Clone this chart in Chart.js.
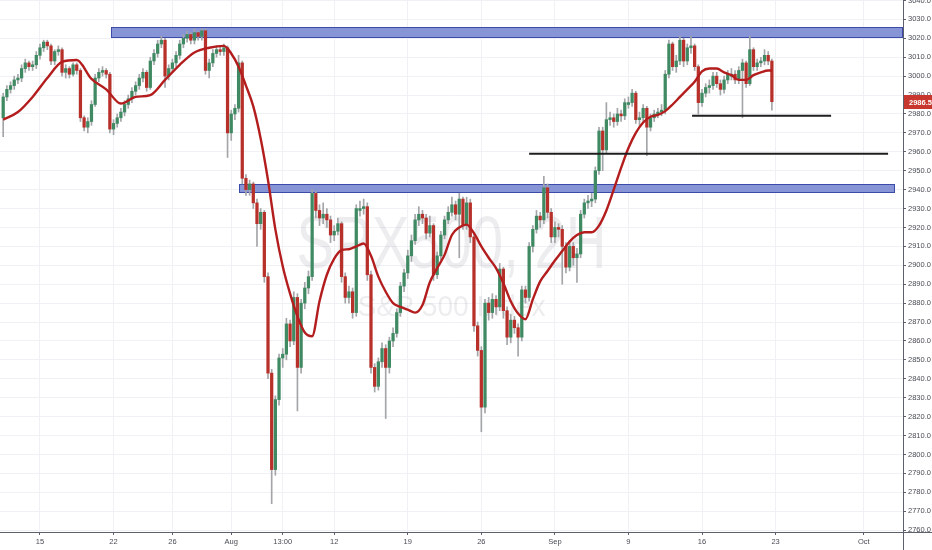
<!DOCTYPE html>
<html lang="en">
<head>
    <meta charset="UTF-8">
    <title>SPX500, 2H</title>
    <script src="https://cdn.jsdelivr.net/npm/chart.js@4.4.1/dist/chart.umd.min.js"></script>
    <style>
        html, body { margin: 0; padding: 0; background: #ffffff; overflow: hidden; }
        canvas { display: block; }
    </style>
</head>
<body>
    <canvas id="chart" width="932" height="550"></canvas>

    <script>
// 2H candles, index 0 = first visible bar (Jul 10), 4 bars per session
var opens = [2978,2989,2993,2995,2998,2999,3004,3007,3005,3006,
    3011,3015,3018,3016,3008,3013,3014,3002,3004,3001,
    3006,3003,2978,2973,2976,2985,2999,3002,3003,3001,
    2972,2975,2978,2981,2985,2988,2992,2995,2999,3002,
    2994,3008,3012,3017,3019,3000,3004,3007,3011,3017,
    3020,3022,3019,3023,3021,3024,3003,3007,3012,3014,
    3013,3015,2970,2980,2983,3007,2946,2940,2943,2933,
    2922,2928,2894,2843,2792,2829,2851,2853,2869,2860,
    2883,2846,2880,2888,2894,2938,2929,2925,2927,2924,
    2916,2918,2922,2894,2883,2886,2875,2929,2930,2931,
    2895,2846,2836,2849,2856,2846,2860,2864,2875,2889,
    2896,2905,2913,2924,2927,2925,2917,2921,2895,2905,
    2916,2924,2928,2932,2927,2935,2921,2933,2915,2868,
    2855,2825,2880,2875,2882,2878,2898,2876,2862,2871,
    2867,2862,2887,2883,2910,2919,2926,2924,2941,2928,
    2915,2920,2919,2910,2899,2910,2904,2906,2927,2933,
    2934,2935,2950,2971,2961,2977,2978,2976,2980,2979,
    2985,2986,2991,2977,2978,2983,2973,2978,2980,2981,
    2982,3001,3017,3005,3008,3019,3008,3015,3016,3005,
    2986,2991,2994,2995,3000,2996,2993,2998,3000,3001,
    2998,3003,3007,2996,3014,3005,3007,3008,3011,3008];

var highs = [2991,2995,2997,3000,3001,3006,3009,3008,3008,3013,
    3017,3019,3019,3017,3014,3016,3015,3006,3005,3007,
    3007,3004,2979,2978,2987,3001,3004,3005,3004,3002,
    2977,2980,2983,2987,2990,2994,2997,3001,3004,3003,
    3010,3014,3019,3021,3020,3006,3009,3013,3019,3022,
    3024,3023,3025,3024,3025,3025,3009,3014,3016,3016,
    3017,3016,2982,2985,3011,3008,2948,2945,2944,2935,
    2930,2929,2896,2845,2831,2853,2856,2872,2871,2886,
    2885,2882,2891,2897,2940,2939,2932,2933,2930,2926,
    2921,2925,2923,2896,2889,2888,2932,2934,2935,2933,
    2897,2848,2851,2859,2858,2862,2867,2877,2891,2898,
    2908,2916,2927,2931,2929,2927,2926,2922,2907,2918,
    2926,2931,2936,2934,2938,2936,2936,2935,2917,2870,
    2857,2882,2883,2885,2884,2901,2899,2878,2874,2873,
    2869,2889,2889,2912,2921,2929,2928,2947,2943,2930,
    2923,2922,2921,2912,2913,2912,2909,2929,2935,2937,
    2938,2952,2973,2973,2986,2981,2980,2983,2982,2988,
    2989,2993,2992,2981,2985,2984,2980,2982,2983,2985,
    3003,3019,3018,3011,3021,3020,3017,3021,3017,3006,
    2993,2996,2998,3002,3002,2998,3000,3003,3004,3003,
    3005,3009,3008,3021,3015,3009,3010,3014,3013,3009];

var lows = [2968,2987,2991,2993,2996,2997,3002,3003,3003,3004,
    3009,3013,3014,3006,3006,3011,3000,2999,2999,3000,
    3001,2976,2971,2970,2974,2984,2997,3000,2999,2970,
    2969,2973,2976,2979,2983,2986,2990,2993,2997,2992,
    2993,3006,3010,3015,2994,2998,3002,3005,3009,3015,
    3018,3017,3017,3019,3019,3001,2999,3005,3010,3011,
    3011,2957,2966,2977,2981,2943,2937,2937,2930,2910,
    2919,2891,2840,2774,2789,2826,2846,2850,2857,2858,
    2823,2843,2877,2885,2892,2925,2921,2922,2920,2912,
    2913,2916,2891,2880,2880,2872,2873,2926,2927,2892,
    2843,2833,2834,2846,2819,2843,2857,2862,2873,2886,
    2893,2902,2911,2921,2922,2914,2915,2892,2893,2903,
    2914,2922,2926,2924,2904,2919,2919,2912,2865,2852,
    2812,2822,2871,2872,2874,2876,2872,2858,2859,2864,
    2852,2860,2880,2881,2907,2917,2920,2922,2925,2912,
    2912,2915,2890,2896,2897,2900,2891,2904,2925,2930,
    2931,2933,2948,2950,2959,2974,2973,2974,2976,2977,
    2983,2984,2975,2974,2976,2958,2971,2976,2978,2979,
    2980,2999,3003,3002,3006,3005,3006,3012,3003,2980,
    2984,2989,2991,2993,2994,2990,2991,2996,2998,2996,
    2996,2978,2994,2995,3003,3003,3005,3006,3006,2982];

var closes = [2989,2993,2995,2998,2999,3004,3007,3005,3006,3011,
    3015,3018,3016,3008,3013,3014,3002,3004,3001,3006,
    3003,2978,2973,2976,2985,2999,3002,3003,3001,2972,
    2975,2978,2981,2985,2988,2992,2995,2999,3002,2994,
    3008,3012,3017,3019,3000,3004,3007,3011,3017,3020,
    3022,3019,3023,3021,3024,3003,3007,3012,3014,3013,
    3015,2970,2980,2983,3007,2946,2940,2943,2933,2922,
    2928,2894,2843,2792,2829,2851,2853,2869,2860,2883,
    2846,2880,2888,2894,2938,2929,2925,2927,2924,2916,
    2918,2922,2894,2883,2886,2875,2930,2930,2931,2895,
    2846,2836,2849,2856,2846,2860,2864,2875,2889,2896,
    2905,2913,2924,2927,2925,2917,2921,2895,2905,2916,
    2924,2928,2932,2927,2935,2921,2933,2915,2868,2855,
    2825,2880,2875,2882,2878,2898,2876,2862,2871,2867,
    2862,2887,2883,2910,2919,2926,2924,2941,2928,2915,
    2920,2919,2910,2899,2910,2904,2906,2927,2933,2934,
    2935,2950,2971,2961,2977,2978,2976,2980,2979,2986,
    2986,2991,2977,2978,2983,2973,2978,2980,2981,2982,
    3001,3017,3005,3008,3019,3008,3015,3016,3005,2986,
    2991,2994,2995,3000,2996,2993,2998,3001,3001,2998,
    3003,3007,2996,3014,3005,3007,3008,3011,3008,2986.5];

var maIdx = [0,4,8,12,16,20,24,28,32,36,40,44,48,52,56,60,62,64,66,68,
    70,72,74,76,78,80,82,84,86,88,90,92,94,96,98,100,102,104,106,108,
    110,112,114,116,118,120,122,124,126,128,130,132,134,136,138,140,142,144,146,148,
    150,152,154,156,158,160,162,164,166,168,170,172,174,176,178,180,182,184,186,188,
    190,192,194,196,198,200,202,204,206,208,209];
var maValues = [2977,2981,2989,2999,3007.5,3008.5,2998.5,2993,2985.5,2989,2990,2998,3006,3012.5,3015,3016,3012,3005,2995,2984,
    2967,2945,2919,2899.5,2885,2873,2864.5,2862.5,2881,2895,2903.5,2908,2908.5,2910,2911.5,2905,2894,2886,2880,2878,
    2876.5,2875,2879,2891,2898.5,2905.5,2916,2920,2921.5,2917,2910,2904,2898.5,2890.5,2881,2874.5,2871.5,2882,2891.5,2897,
    2902.5,2907.5,2912.5,2916,2917.5,2917.5,2921,2929,2940,2951.5,2962,2970,2975.5,2978.5,2979.5,2981.5,2985,2989,2993,2997,
    3002.5,3004,3004,3002,3000.5,2998,2998,3000.5,3002,3003,3003];

// drawn levels: zones (blue boxes) and black lines
var zoneFrom = [29.3, 64.1];
var zoneTo = [244.7, 242.5];
var zoneLow = [3020.8, 2939];
var zoneHigh = [3026, 2943];
var lineFrom = [143, 187.3];
var lineTo = [240.6, 225.1];
var lineLevel = [2959, 2979];

var xTickIdx = [10, 30, 46, 62, 76, 90, 110, 130, 150, 170, 190, 210, 234];
var xTickLabels = ["15", "22", "26", "Aug", "13:00", "12", "19", "26", "Sep", "9", "16", "23", "Oct"];
var yTicks = [2760, 2770, 2780, 2790, 2800, 2810, 2820, 2830, 2840, 2850, 2860, 2870, 2880, 2890, 2900,
    2910, 2920, 2930, 2940, 2950, 2960, 2970, 2980, 2990, 3000, 3010, 3020, 3030, 3040];

var upColor = "#3f8a63";
var downColor = "#b8302a";

function buildChart() {
    var wicks = [];
    var bodies = [];
    var colors = [];
    for (var i = 0; i < closes.length; i++) {
        wicks.push({ x: i, y: [lows[i], highs[i]] });
        bodies.push({ x: i, y: [opens[i], closes[i]] });
        colors.push(closes[i] >= opens[i] ? upColor : downColor);
    }

    var maData = maIdx.map(function(v, k) { return { x: v, y: maValues[k] }; });

    var datasets = [
        { type: "bar", data: wicks, backgroundColor: "#a3a5a8", barThickness: 1, grouped: false, order: 4 },
        { type: "bar", data: bodies, backgroundColor: colors, barThickness: 2.6, minBarLength: 1, grouped: false, order: 3 },
        { type: "line", data: maData, borderColor: "#b31d1d", borderWidth: 2.4, pointRadius: 0,
          cubicInterpolationMode: "monotone", fill: false, order: 2 }
    ];
    lineLevel.forEach(function(lv, k) {
        datasets.push({ type: "line", data: [{ x: lineFrom[k], y: lv }, { x: lineTo[k], y: lv }],
            borderColor: "#1e1e1e", borderWidth: 2, pointRadius: 0, fill: false, order: 1 });
    });

    // blue zones behind the candles
    var zonesPlugin = {
        id: "zones",
        beforeDatasetsDraw: function(chart) {
            var c = chart.ctx, xs = chart.scales.x, ys = chart.scales.y, a = chart.chartArea;
            c.save();
            c.beginPath();
            c.rect(a.left, a.top, a.right - a.left, a.bottom - a.top);
            c.clip();
            for (var k = 0; k < zoneFrom.length; k++) {
                var x1 = Math.round(xs.getPixelForValue(zoneFrom[k])) + 0.5;
                var x2 = Math.round(xs.getPixelForValue(zoneTo[k])) - 0.5;
                var y1 = Math.round(ys.getPixelForValue(zoneHigh[k])) + 0.5;
                var y2 = Math.round(ys.getPixelForValue(zoneLow[k])) + 0.5;
                c.fillStyle = "#8794d6";
                c.fillRect(x1, y1, x2 - x1, y2 - y1);
                c.strokeStyle = "#3c4ba8";
                c.lineWidth = 1;
                c.strokeRect(x1, y1, x2 - x1, y2 - y1);
            }
            c.restore();
        }
    };

    // symbol watermark
    var watermarkPlugin = {
        id: "watermark",
        beforeDatasetsDraw: function(chart) {
            var c = chart.ctx, a = chart.chartArea;
            var cx = (a.left + a.right) / 2;
            c.save();
            c.fillStyle = "rgba(90, 95, 110, 0.11)";
            c.textAlign = "center";
            c.textBaseline = "alphabetic";
            c.font = "74px 'Liberation Sans', Arial, sans-serif";
            c.fillText("SPX500, 2H", cx, 268, 310);
            c.font = "30px 'Liberation Sans', Arial, sans-serif";
            c.fillText("S&P 500 Index", cx, 316, 188);
            c.restore();
        }
    };

    // axis lines and last price label
    var axisPlugin = {
        id: "axisLines",
        afterDraw: function(chart) {
            var c = chart.ctx, a = chart.chartArea, ys = chart.scales.y;
            c.save();
            c.strokeStyle = "#5d606b";
            c.lineWidth = 1;
            c.beginPath();
            c.moveTo(0, Math.round(a.bottom) + 0.5);
            c.lineTo(chart.width, Math.round(a.bottom) + 0.5);
            c.moveTo(Math.round(a.right) + 0.5, 0);
            c.lineTo(Math.round(a.right) + 0.5, chart.height);
            c.stroke();

            var last = closes[closes.length - 1];
            var py = Math.round(ys.getPixelForValue(last));
            c.fillStyle = "#c8372d";
            c.fillRect(a.right + 1, py - 7, chart.width - a.right - 1, 14);
            c.fillStyle = "#ffffff";
            c.font = "bold 7.5px 'Liberation Sans', Arial, sans-serif";
            c.textBaseline = "middle";
            c.textAlign = "left";
            c.fillText(last.toFixed(1), a.right + 6, py + 0.5);
            c.restore();
        }
    };

    Chart.defaults.font.family = "'Liberation Sans', Arial, sans-serif";

    new Chart(document.getElementById("chart").getContext("2d"), {
        type: "bar",
        data: { datasets: datasets },
        options: {
            responsive: false,
            animation: false,
            layout: { padding: 0 },
            plugins: { legend: { display: false }, tooltip: { enabled: false } },
            scales: {
                x: {
                    type: "linear",
                    min: -0.87,
                    max: 244.65,
                    offset: false,
                    border: { display: false },
                    grid: { offset: false, color: "#eff1f5", tickColor: "#5d606b", tickLength: 3, drawTicks: true },
                    ticks: {
                        autoSkip: false, maxRotation: 0, padding: 2, color: "#4a4c55",
                        font: { size: 7.5 },
                        callback: function(v, idx) { return xTickLabels[idx]; }
                    },
                    afterBuildTicks: function(scale) {
                        scale.ticks = xTickIdx.map(function(v) { return { value: v }; });
                    },
                    afterFit: function(scale) {
                        scale.height = 18;
                        scale.paddingLeft = 0;
                        scale.paddingRight = 0;
                    }
                },
                y: {
                    position: "right",
                    min: 2759,
                    max: 3040.25,
                    border: { display: false },
                    grid: { color: "#eff1f5", tickColor: "#5d606b", tickLength: 3 },
                    ticks: {
                        padding: 2, color: "#4a4c55", font: { size: 7.5 },
                        callback: function(v) { return Number(v).toFixed(1); }
                    },
                    afterBuildTicks: function(scale) {
                        scale.ticks = yTicks.map(function(v) { return { value: v }; });
                    },
                    afterFit: function(scale) {
                        scale.width = 29;
                        scale.paddingTop = 0;
                        scale.paddingBottom = 0;
                    }
                }
            }
        },
        plugins: [zonesPlugin, watermarkPlugin, axisPlugin]
    });
}

window.addEventListener("load", buildChart);
    </script>
</body>
</html>
